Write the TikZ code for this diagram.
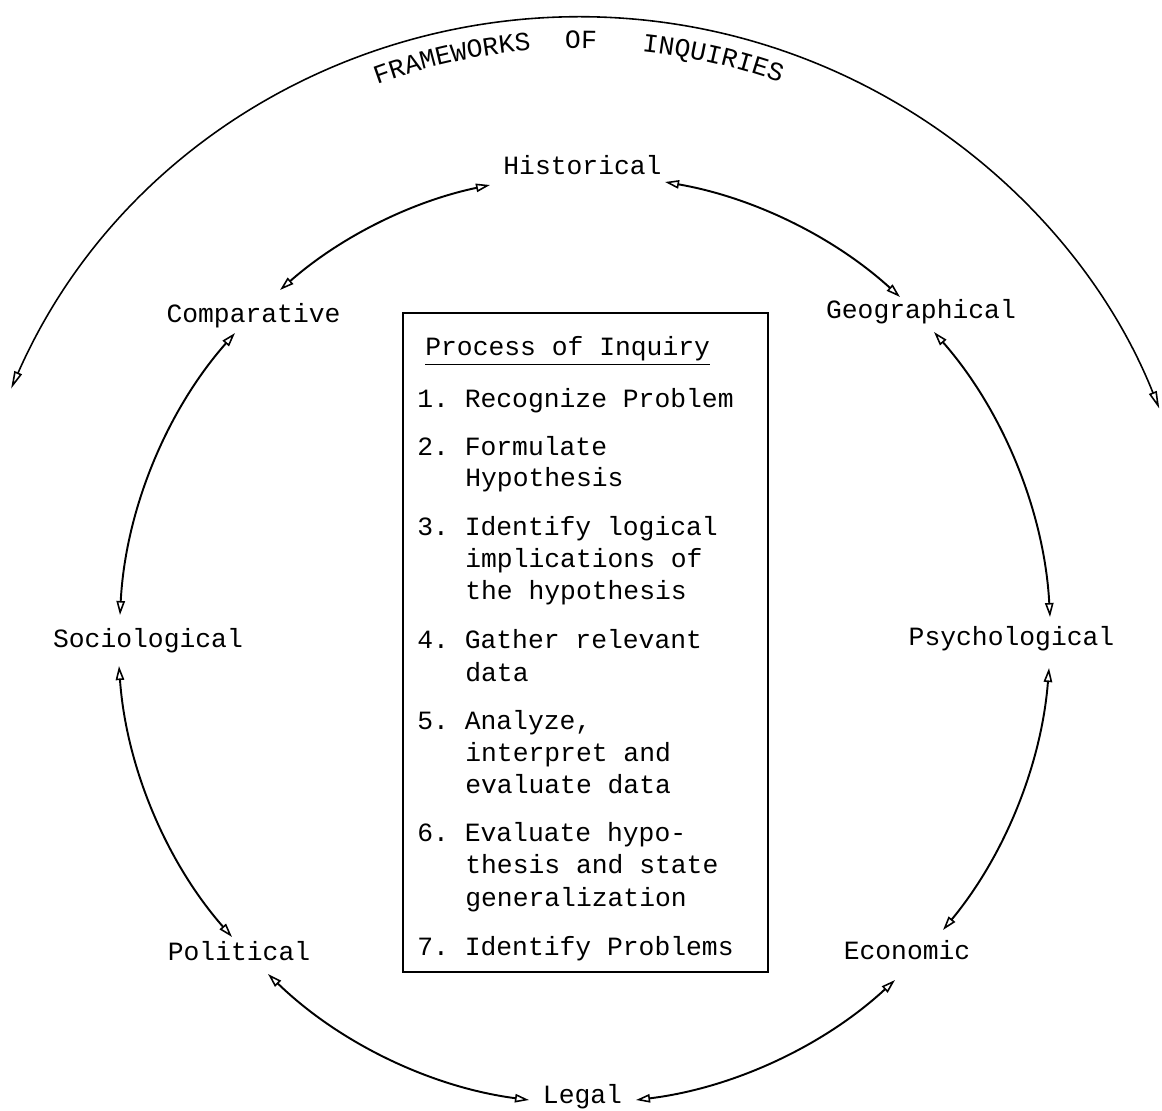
\documentclass[tikz,border=0pt]{standalone}
\usepackage{fontspec}
\setmainfont{Liberation Mono}
\usetikzlibrary{arrows.meta,calc,decorations.text}
\frenchspacing
\begin{document}
\begin{tikzpicture}[x=0.02cm,y=0.02cm,
  lbl/.style={font=\fontsize{15}{18}\selectfont, inner sep=0pt, anchor=base},
  txt/.style={font=\fontsize{15}{18}\selectfont, inner sep=0pt, anchor=base west},
  tipa/.tip={Triangle[open,length=8pt,width=4.8pt,line width=0.9pt]},
  link/.style={line width=1.1pt, tipa-tipa, looseness=0.875},
  outerarc/.style={line width=0.9pt, {Triangle[open,length=10pt,width=4.6pt]}-{Triangle[open,length=10pt,width=4.6pt]}},
  frame/.style={draw, line width=1.1pt, inner sep=0pt},
  arctext/.style={decorate, decoration={text along path, text align=center, text={|\fontsize{15}{18}\selectfont|#1}}}
]
\useasboundingbox (0,0) rectangle (1162,-1111);
\coordinate (ctr) at (581,-640);

% frameworks (ring of labels)
\node[lbl] (hist)  at (582.5,-175) {Historical};
\node[lbl] (comp)  at (253.5,-322) {Comparative};
\node[lbl] (geo)   at (921,-318)   {Geographical};
\node[lbl] (socio) at (148,-647)   {Sociological};
\node[lbl] (psych) at (1011.5,-645){Psychological};
\node[lbl] (pol)   at (239,-960)   {Political};
\node[lbl] (econ)  at (907,-959)   {Economic};
\node[lbl] (legal) at (582.5,-1103){Legal};

% connectors around the ring
\draw[link] ($(hist.base)+(-92.5,-10)$) to[bend right=14.7] ($(comp.base)+(26.5,32)$);
\draw[link] ($(comp.base)+(-18.5,-11)$) to[bend right=19.2] ($(socio.base)+(-28,32)$);
\draw[link] ($(socio.base)+(-29,-19)$) to[bend right=18.6] ($(pol.base)+(-7,23)$);
\draw[link] ($(pol.base)+(29,-14)$) to[bend right=18.3] ($(legal.base)+(-53.5,3)$);
\draw[link] ($(legal.base)+(53.5,3)$) to[bend right=17.9] ($(econ.base)+(-12,-21)$);
\draw[link] ($(econ.base)+(36,29)$) to[bend right=17.6] ($(psych.base)+(37.5,-23)$);
\draw[link] ($(psych.base)+(38.5,28)$) to[bend right=19.1] ($(geo.base)+(13,-14)$);
\draw[link] ($(geo.base)+(-21,21)$) to[bend right=16.2] ($(hist.base)+(82.5,-7)$);

% outer arc with title
\draw[outerarc] ($(ctr)+(156.2:12.46cm)$) arc[start angle=156.2, end angle=21.8, radius=12.46cm];
\path[arctext=FRAMEWORKS] ($(ctr)+(112.5:11.84cm)$) arc[start angle=112.5, end angle=92.5, radius=11.84cm];
\path[arctext=OF] ($(ctr)+(95:11.84cm)$) arc[start angle=95, end angle=85, radius=11.84cm];
\path[arctext=INQUIRIES] ($(ctr)+(87.2:11.84cm)$) arc[start angle=87.2, end angle=67.2, radius=11.84cm];

% process box
\node[frame, minimum width=7.3cm, minimum height=13.18cm] (box) at (585.5,-642.5) {};
\node[txt] (title) at (425,-356) {\underline{Process of Inquiry}};
\foreach \x/\y/\t [count=\i] in {
  417/407/{1. Recognize Problem},
  417/455/{2. Formulate},
  465/486/{Hypothesis},
  417/535/{3. Identify logical},
  465/567/{implications of},
  465/599/{the hypothesis},
  417/648/{4. Gather relevant},
  465/681/{data},
  417/729/{5. Analyze,},
  465/761/{interpret and},
  465/793/{evaluate data},
  417/841/{6. Evaluate hypo-},
  465/873/{thesis and state},
  465/906/{generalization},
  417/955/{7. Identify Problems}}
  \node[txt] (s\i) at (\x,-\y) {\t};
\end{tikzpicture}
\end{document}
